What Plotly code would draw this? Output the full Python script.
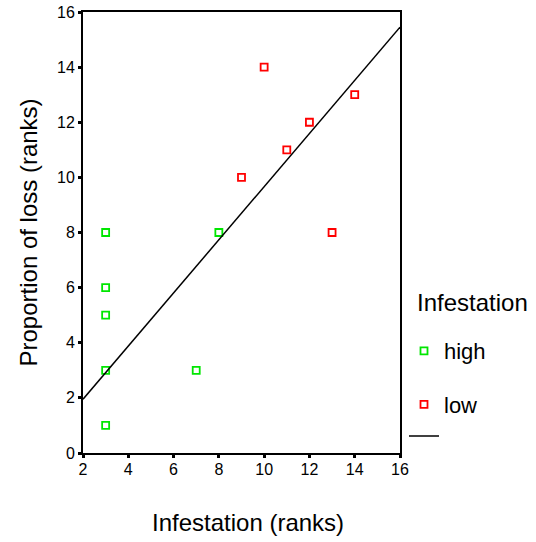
import plotly.graph_objects as go

# Data (ranks)
high_x = [3, 3, 3, 3, 3, 7, 8]
high_y = [8, 6, 5, 3, 1, 3, 8]
low_x = [10, 9, 11, 12, 14, 13]
low_y = [14, 10, 11, 12, 13, 8]
fit_x = [2, 16]
fit_y = [1.95, 15.45]
tick_vals = [0, 2, 4, 6, 8, 10, 12, 14, 16]
x_tick_vals = [2, 4, 6, 8, 10, 12, 14, 16]

FONT = "Liberation Sans, Arial, Helvetica, sans-serif"

fig = go.Figure()
fig.add_trace(go.Scatter(
    x=high_x, y=high_y, mode="markers", name="high", legendgroup="a",
    marker=dict(symbol="square-open", size=7, color="#00e600", line=dict(width=1.8, color="#00e600")),
))
fig.add_trace(go.Scatter(
    x=low_x, y=low_y, mode="markers", name="low", legendgroup="b",
    marker=dict(symbol="square-open", size=7, color="#ff0000", line=dict(width=1.8, color="#ff0000")),
))
fig.add_trace(go.Scatter(
    x=fit_x, y=fit_y, mode="lines", name=" ", legendgroup="b",
    line=dict(color="black", width=1.5),
))

axis_common = dict(
    showgrid=False, zeroline=False, showline=True, linecolor="black", linewidth=2,
    mirror=True, ticks="outside", ticklen=3, tickwidth=3, tickcolor="black",
    tickfont=dict(family=FONT, size=16, color="black"), automargin=False,
    ticklabeloverflow="allow",
)
fig.update_xaxes(range=[2, 16], tickvals=x_tick_vals, ticklabelstandoff=-2, **axis_common)
fig.update_yaxes(range=[0, 16], tickvals=tick_vals, **axis_common)

title_font = dict(family=FONT, size=24, color="black")
fig.add_annotation(text="Infestation (ranks)", xref="paper", yref="paper",
                   x=(248 - 83) / 317, y=(453 - 522) / 441, xanchor="center", yanchor="middle",
                   showarrow=False, font=title_font)
fig.add_annotation(text="Proportion of loss (ranks)", xref="paper", yref="paper",
                   x=(28 - 83) / 317, y=0.5, xanchor="center", yanchor="middle", textangle=-90,
                   showarrow=False, font=title_font)
fig.add_annotation(text="Infestation", xref="paper", yref="paper",
                   x=(415 - 83) / 317, y=(453 - 302) / 441, xanchor="left", yanchor="middle",
                   showarrow=False, font=title_font)

fig.update_layout(
    width=536, height=542,
    margin=dict(l=83, r=136, t=12, b=89),
    plot_bgcolor="white", paper_bgcolor="white",
    font=dict(family=FONT, color="black"),
    showlegend=True,
    legend=dict(
        font=dict(family=FONT, size=22, color="black"),
        x=(404 - 83) / 317, y=(453 - 330) / 441, xanchor="left", yanchor="top",
        tracegroupgap=22, traceorder="grouped",
        bgcolor="rgba(0,0,0,0)",
    ),
)

# Remove the default 8px body margin so the figure sits at the page's corner.
fig.write_html("out.html", config={"displayModeBar": False},
               post_script="document.body.style.margin='0';")
